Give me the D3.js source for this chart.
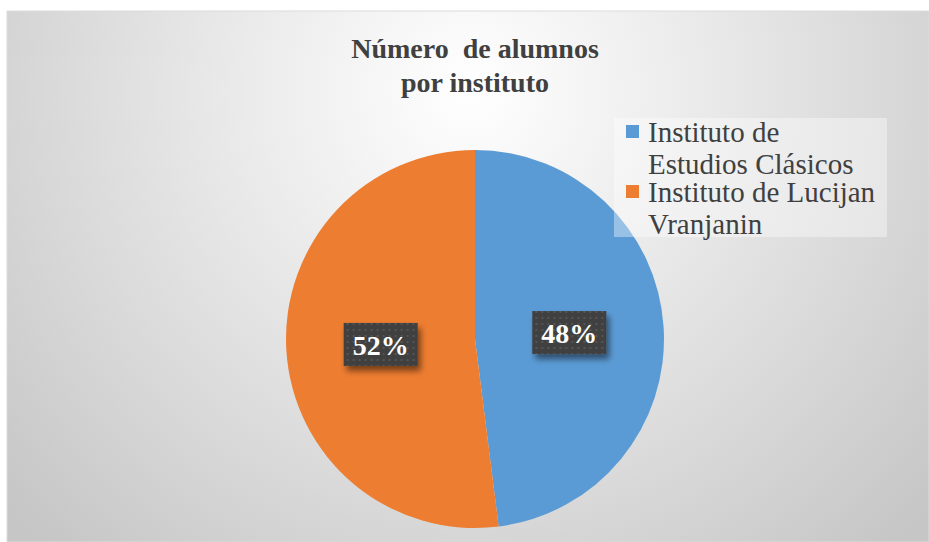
<!DOCTYPE html>
<html><head><meta charset="utf-8">
<script src="https://cdn.jsdelivr.net/npm/d3@7"></script>
<style>html,body{margin:0;padding:0;background:#fff;}svg{display:block;}</style>
</head><body>
<svg id="chart" width="929" height="542"></svg>
<script>
const categories = ["Instituto de Estudios Clásicos", "Instituto de Lucijan Vranjanin"];
const legendLines = [["Instituto de", "Estudios Clásicos"], ["Instituto de Lucijan", "Vranjanin"]];
const values = [48, 52];
const colors = ["#5B9BD5", "#ED7D31"];
const titleLines = ["Número  de alumnos", "por instituto"];

const svg = d3.select("#chart");
const defs = svg.append("defs");
const bg = defs.append("radialGradient").attr("id","bg").attr("gradientUnits","userSpaceOnUse")
  .attr("cx",470).attr("cy",90).attr("r",620);
bg.append("stop").attr("offset","0").attr("stop-color","#ffffff");
bg.append("stop").attr("offset","0.45").attr("stop-color","#e6e6e6");
bg.append("stop").attr("offset","1").attr("stop-color","#c6c6c6");

const pat = defs.append("pattern").attr("id","dots").attr("patternUnits","userSpaceOnUse")
  .attr("width",6).attr("height",6);
pat.append("rect").attr("width",6).attr("height",6).attr("fill","#404040");
pat.append("rect").attr("x",2).attr("y",2).attr("width",2).attr("height",2).attr("fill","#555555");

const sh = defs.append("filter").attr("id","shadow").attr("x","-30%").attr("y","-30%").attr("width","160%").attr("height","180%");
sh.append("feGaussianBlur").attr("in","SourceAlpha").attr("stdDeviation",3).attr("result","b");
sh.append("feOffset").attr("in","b").attr("dx",3).attr("dy",5).attr("result","o");
sh.append("feComponentTransfer").attr("in","o").attr("result","o2").append("feFuncA").attr("type","linear").attr("slope",0.5);
const m = sh.append("feMerge"); m.append("feMergeNode").attr("in","o2"); m.append("feMergeNode").attr("in","SourceGraphic");

svg.append("rect").attr("x",7).attr("y",11).attr("width",922).attr("height",531)
  .attr("fill","url(#bg)").attr("stroke","#dcdcdc").attr("stroke-width",1);

// title
svg.append("text").attr("x",475).attr("y",58).attr("text-anchor","middle")
  .attr("font-family","'Liberation Serif', 'Times New Roman', serif").attr("font-weight","bold")
  .attr("font-size",28).attr("fill","#404040")
  .selectAll("tspan").data(titleLines).join("tspan")
  .attr("x",475).attr("dy",(d,i)=>i?34:0).attr("xml:space","preserve").style("white-space","pre").text(d=>d);

const cx = 475, cy = 339, R = 189;
const pie = d3.pie().sort(null).value(d=>d);
const arcs = pie(values);
const arc = d3.arc().innerRadius(0).outerRadius(R);
const g = svg.append("g").attr("transform",`translate(${cx},${cy})`);
g.selectAll("path").data(arcs).join("path").attr("d",arc).attr("fill",(d,i)=>colors[i]);

const total = d3.sum(values);
const labelArc = d3.arc().innerRadius(R*0.5).outerRadius(R*0.5);
const lg = g.selectAll("g.lab").data(arcs).join("g").attr("class","lab")
  .attr("transform",d=>`translate(${labelArc.centroid(d)})`);
lg.append("rect").attr("x",-37).attr("y",-22).attr("width",74).attr("height",43)
  .attr("fill","url(#dots)").attr("filter","url(#shadow)");
lg.append("text").attr("text-anchor","middle").attr("y",10)
  .attr("font-family","'Liberation Serif', 'Times New Roman', serif").attr("font-weight","bold")
  .attr("font-size",28).attr("fill","#ffffff")
  .text(d=>Math.round(d.data/total*100)+"%");

// legend
svg.append("rect").attr("x",614).attr("y",118).attr("width",273).attr("height",119)
  .attr("fill","#ffffff").attr("fill-opacity",0.38);
const leg = svg.append("g");
const items = leg.selectAll("g").data(categories).join("g")
  .attr("transform",(d,i)=>`translate(626,${125 + i*60})`);
items.append("rect").attr("width",13).attr("height",13).attr("fill",(d,i)=>colors[i]);
items.append("text").attr("font-family","'Liberation Serif', 'Times New Roman', serif")
  .attr("font-size",29).attr("fill","#404040")
  .selectAll("tspan").data((d,i)=>legendLines[i]).join("tspan")
  .attr("x",22).attr("y",(d,j)=>17 + j*32).text(d=>d);
</script>
</body></html>
